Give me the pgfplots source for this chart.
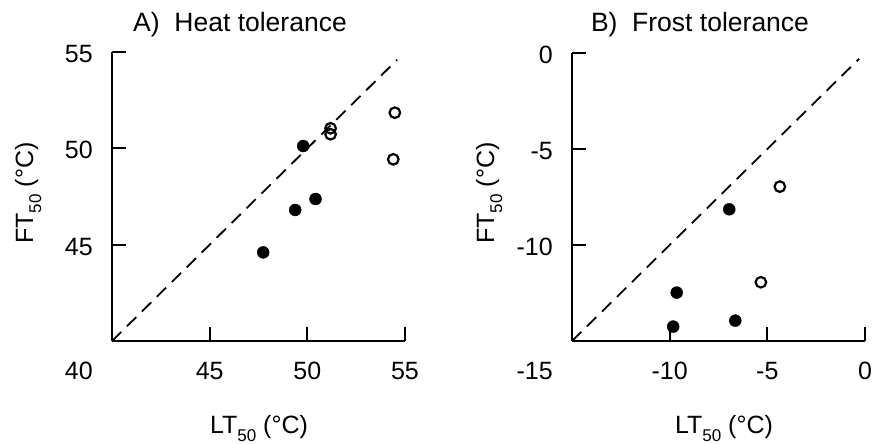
\documentclass[border=0pt]{standalone}
\usepackage{pgfplots}
\pgfplotsset{compat=1.18}
\usepackage{fontspec}
\setmainfont{Liberation Sans}
\newcommand{\bigf}{\fontsize{25bp}{29bp}\selectfont}
\newcommand{\titf}{\fontsize{26.5bp}{30bp}\selectfont}
\newcommand{\subf}[1]{\raisebox{-8bp}{\fontsize{17bp}{19bp}\selectfont #1}}
\pgfplotsset{
  panel/.style={
    scale only axis, width=293bp,
    axis x line*=bottom, axis y line*=left,
    axis line style={-, line width=2bp},
    tick align=inside, major tick length=14bp,
    every tick/.style={black, line width=2bp},
    tick label style={font=\bigf, inner sep=0pt},
    yticklabel style={anchor=east, xshift=-19bp, yshift=-2bp},
    xticklabel style={anchor=north, yshift=-21bp},
    clip=false,
  },
  filled/.style={only marks, mark=*, mark size=6bp, mark options={fill=black, draw=black}},
  open/.style={only marks, mark=o, mark size=5.3bp, mark options={draw=black, line width=2.2bp}},
  diag/.style={black, line width=1.8bp, dash pattern=on 13bp off 8bp, no marks},
}
\begin{document}
\begin{tikzpicture}
\useasboundingbox (0,0) rectangle (872bp,444bp);
\begin{axis}[panel, at={(112bp,103bp)}, anchor=south west, height=289bp,
  xmin=40, xmax=55, ymin=40, ymax=55,
  xtick={45,50,55}, xticklabels={45,50,55},
  ytick={45,50,55}, yticklabels={45,50,55}]
  \addplot[diag] coordinates {(40,40) (54.6,54.6)};
  \addplot[filled] coordinates {(47.74,44.6) (49.38,46.8) (50.42,47.37) (49.79,50.12)};
  \addplot[open] coordinates {(51.19,51.04) (51.19,50.73) (54.48,51.85) (54.40,49.43)};
  \node[anchor=north east, inner sep=0pt, font=\bigf] at (rel axis cs:0,0) [xshift=-19bp, yshift=-21bp] {40};
\end{axis}
\begin{axis}[panel, at={(572bp,103bp)}, anchor=south west, height=288bp,
  xmin=-15, xmax=0, ymin=-15, ymax=0,
  xtick={-10,-5,0}, xticklabels={-10,-5,0},
  ytick={-10,-5,0}, yticklabels={-10,-5,0}]
  \addplot[diag] coordinates {(-15,-15) (-0.3,-0.3)};
  \addplot[filled] coordinates {(-6.95,-8.14) (-9.64,-12.48) (-9.82,-14.25) (-6.64,-13.94)};
  \addplot[open] coordinates {(-4.36,-6.96) (-5.33,-11.94)};
  \node[anchor=north east, inner sep=0pt, font=\bigf] at (rel axis cs:0,0) [xshift=-19bp, yshift=-21bp] {-15};
\end{axis}
\node[anchor=base, inner sep=0pt, font=\titf] at (240bp,412bp) {A)\ \ Heat tolerance};
\node[anchor=base, inner sep=0pt, font=\titf] at (700bp,412bp) {B)\ \ Frost tolerance};
\node[anchor=base, inner sep=0pt, font=\bigf] at (259bp,11bp) {LT\subf{50}\ (°C)};
\node[anchor=base, inner sep=0pt, font=\bigf] at (724bp,11bp) {LT\subf{50}\ (°C)};
\node[anchor=base, inner sep=0pt, font=\bigf, rotate=90] at (33bp,251bp) {FT\subf{50}\ (°C)};
\node[anchor=base, inner sep=0pt, font=\bigf, rotate=90] at (494bp,251bp) {FT\subf{50}\ (°C)};
\end{tikzpicture}
\end{document}
